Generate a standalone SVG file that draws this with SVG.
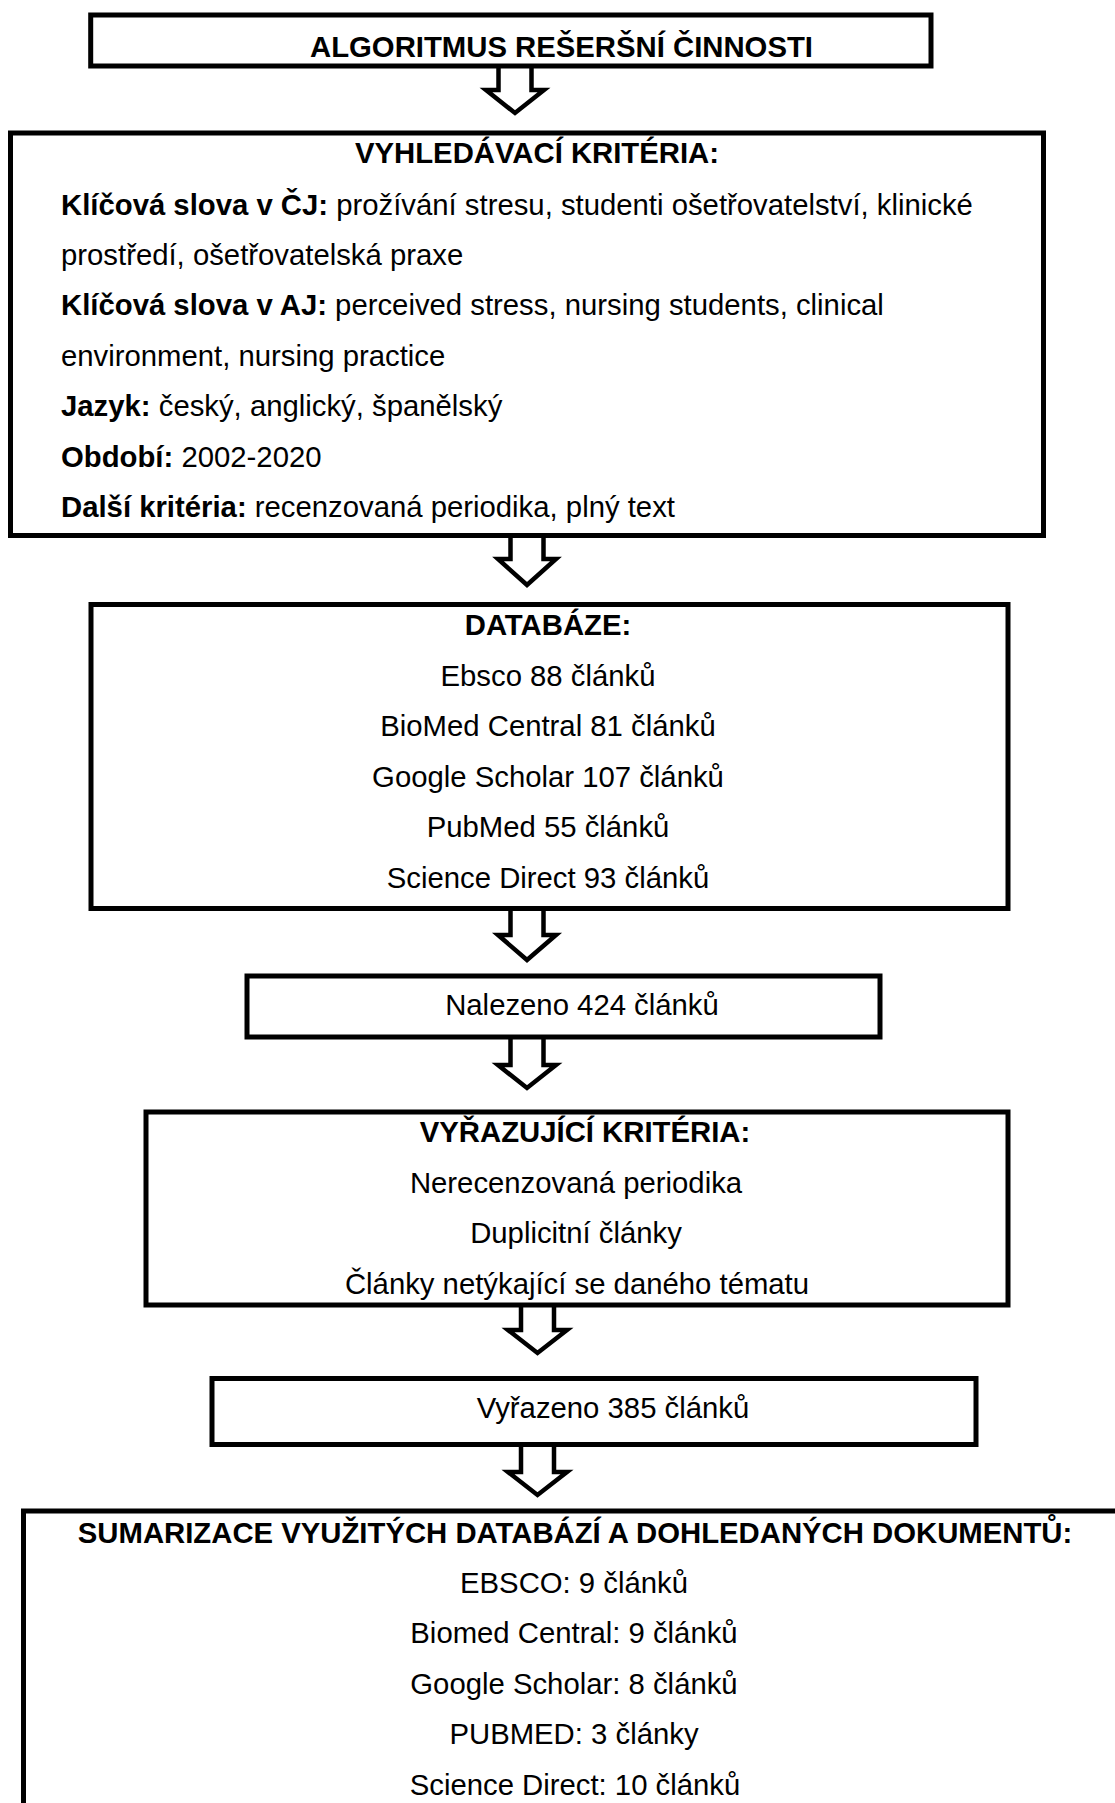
<svg xmlns="http://www.w3.org/2000/svg" width="1115" height="1803" viewBox="0 0 1115 1803">
<style>
.box{fill:#fff;stroke:#000;stroke-width:5}
.arr{fill:#fff;stroke:#000;stroke-width:4.5;stroke-linejoin:miter}
text{font-family:"Liberation Sans",Arial,sans-serif;font-size:29.3px;fill:#000}
.b{font-weight:bold}
.c{text-anchor:middle}
</style>
<rect width="1115" height="1803" fill="#fff"/>
<g id="connectors">
<path class="arr" d="M498.5,66 V90 H486 L515,113 L544,90 H531.5 V66"/>
<path class="arr" d="M510.5,535.5 V559 H498 L527,585 L556,559 H543.5 V535.5"/>
<path class="arr" d="M510.5,908.5 V935 H498 L527,960 L556,935 H543.5 V908.5"/>
<path class="arr" d="M510.5,1037 V1065 H498 L527,1088 L556,1065 H543.5 V1037"/>
<path class="arr" d="M521,1305 V1330 H508 L537.5,1353 L567,1330 H554 V1305"/>
<path class="arr" d="M521,1444.5 V1472 H508 L537.5,1495 L567,1472 H554 V1444.5"/>
</g>
<g id="n1">
<rect class="box" x="90.7" y="15" width="840.3" height="51"/>
<text class="b" x="310" y="57">ALGORITMUS REŠERŠNÍ ČINNOSTI</text>
</g>
<g id="n2">
<rect class="box" x="10.5" y="133" width="1033" height="402.5"/>
<text class="b c" x="537" y="163">VYHLEDÁVACÍ KRITÉRIA:</text>
<text x="61" y="214.5"><tspan class="b">Klíčová slova v ČJ:</tspan> prožívání stresu, studenti ošetřovatelství, klinické</text>
<text x="61" y="264.5">prostředí, ošetřovatelská praxe</text>
<text x="61" y="315"><tspan class="b">Klíčová slova v AJ:</tspan> perceived stress, nursing students, clinical</text>
<text x="61" y="365.5">environment, nursing practice</text>
<text x="61" y="416"><tspan class="b">Jazyk:</tspan> český, anglický, španělský</text>
<text x="61" y="466.5"><tspan class="b">Období:</tspan> 2002-2020</text>
<text x="61" y="517"><tspan class="b">Další kritéria:</tspan> recenzovaná periodika, plný text</text>
</g>
<g id="n3">
<rect class="box" x="91" y="604.5" width="917" height="304"/>
<text class="b c" x="548" y="635">DATABÁZE:</text>
<text class="c" x="548" y="685.5">Ebsco 88 článků</text>
<text class="c" x="548" y="736">BioMed Central 81 článků</text>
<text class="c" x="548" y="786.5">Google Scholar 107 článků</text>
<text class="c" x="548" y="837">PubMed 55 článků</text>
<text class="c" x="548" y="887.5">Science Direct 93 článků</text>
</g>
<g id="n4">
<rect class="box" x="247" y="976" width="633" height="61"/>
<text class="c" x="582" y="1015">Nalezeno 424 článků</text>
</g>
<g id="n5">
<rect class="box" x="146" y="1112" width="862" height="193"/>
<text class="b c" x="585" y="1142">VYŘAZUJÍCÍ KRITÉRIA:</text>
<text class="c" x="576" y="1192.5">Nerecenzovaná periodika</text>
<text class="c" x="576" y="1243">Duplicitní články</text>
<text class="c" x="577" y="1293.5">Články netýkající se daného tématu</text>
</g>
<g id="n6">
<rect class="box" x="212" y="1378.5" width="764" height="66"/>
<text class="c" x="613" y="1418">Vyřazeno 385 článků</text>
</g>
<g id="n7">
<rect class="box" x="23.5" y="1511" width="1200" height="400"/>
<text class="b c" x="575" y="1543">SUMARIZACE VYUŽITÝCH DATABÁZÍ A DOHLEDANÝCH DOKUMENTŮ:</text>
<text class="c" x="574" y="1592.5">EBSCO: 9 článků</text>
<text class="c" x="574" y="1643">Biomed Central: 9 článků</text>
<text class="c" x="574" y="1693.5">Google Scholar: 8 článků</text>
<text class="c" x="574" y="1744">PUBMED: 3 články</text>
<text class="c" x="575" y="1794.5">Science Direct: 10 článků</text>
</g>
</svg>
